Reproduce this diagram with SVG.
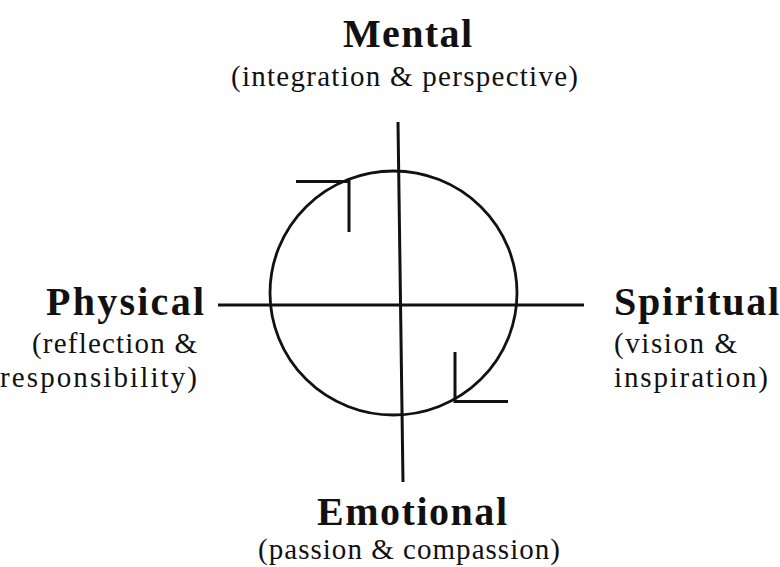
<svg xmlns="http://www.w3.org/2000/svg" width="780" height="567" viewBox="0 0 780 567">
<style>
.t{font-family:"Liberation Serif","Times New Roman",serif;font-weight:bold;font-size:40px;fill:#111}
.s{font-family:"Liberation Serif","Times New Roman",serif;font-size:29px;fill:#111}
.ln{stroke:#111;stroke-width:3;fill:none;stroke-linecap:butt}
.c{stroke:#111;stroke-width:2.8;fill:none}
</style>
<rect width="780" height="567" fill="#fff"/>
<g id="connectors">
<ellipse class="c" cx="393.5" cy="293" rx="123.5" ry="122"/>
<line class="ln" x1="398" y1="122" x2="403" y2="482"/>
<line class="ln" x1="218" y1="305" x2="584" y2="305"/>
<polyline class="ln" points="296,181.5 349,181.5 349,232"/>
<polyline class="ln" points="455,352 455,401.5 508,401.5"/>
</g>
<g id="mental">
<text class="t" x="343" y="47" textLength="129" lengthAdjust="spacing">Mental</text>
<text class="s" x="231" y="86" textLength="347" lengthAdjust="spacing">(integration &amp; perspective)</text>
</g>
<g id="physical">
<text class="t" x="46" y="315" textLength="158" lengthAdjust="spacing">Physical</text>
<text class="s" x="32" y="353" textLength="165" lengthAdjust="spacing">(reflection &amp;</text>
<text class="s" x="0" y="387" textLength="197" lengthAdjust="spacing">responsibility)</text>
</g>
<g id="spiritual">
<text class="t" x="614" y="315" textLength="165" lengthAdjust="spacing">Spiritual</text>
<text class="s" x="614" y="353" textLength="123" lengthAdjust="spacing">(vision &amp;</text>
<text class="s" x="614" y="387" textLength="154" lengthAdjust="spacing">inspiration)</text>
</g>
<g id="emotional">
<text class="t" x="317" y="525" textLength="190" lengthAdjust="spacing">Emotional</text>
<text class="s" x="258" y="559" textLength="302" lengthAdjust="spacing">(passion &amp; compassion)</text>
</g>
</svg>
